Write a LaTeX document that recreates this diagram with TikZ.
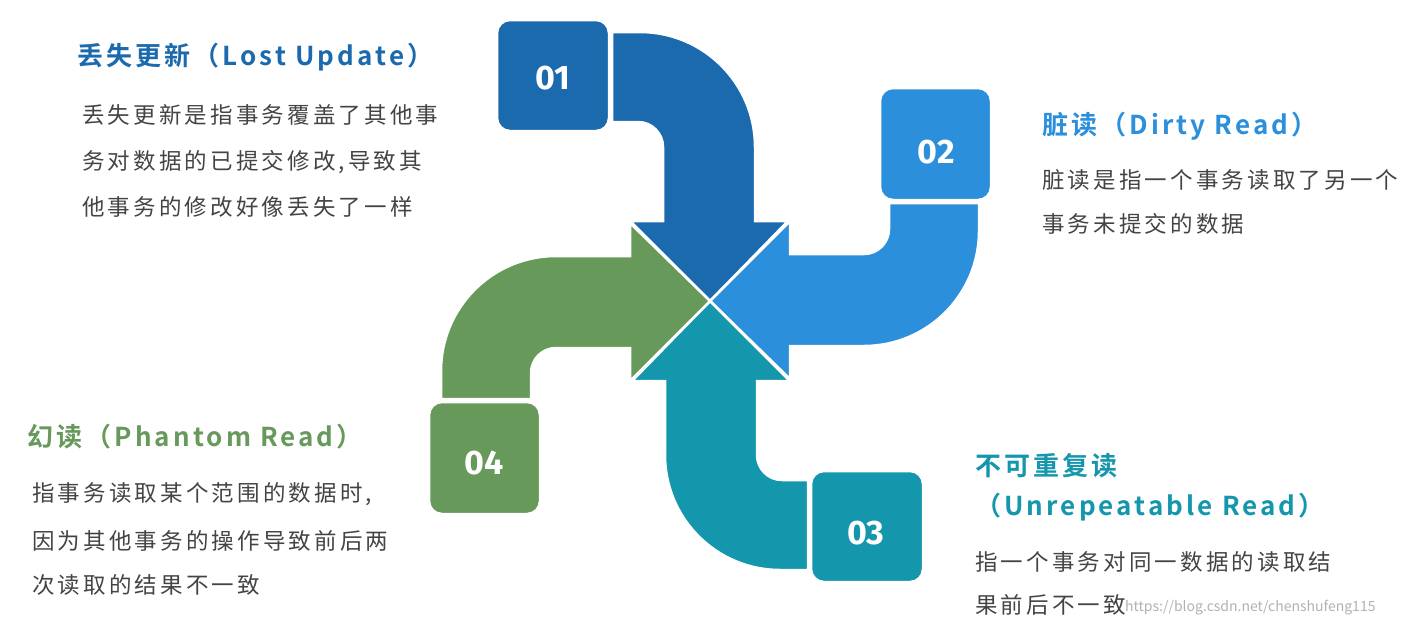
\documentclass[tikz,border=0pt]{standalone}
\usepackage{fontspec}
\setmainfont{Noto Sans CJK SC}
\newfontfamily\numfont{Fira Sans}
\newfontfamily\bodyfont[LetterSpace=14]{Noto Sans CJK SC}
\newfontfamily\ttlfont[LetterSpace=12]{Noto Sans CJK SC Bold}
\definecolor{cA}{HTML}{1B6AAE}
\definecolor{cB}{HTML}{2B8FDB}
\definecolor{cC}{HTML}{1496AC}
\definecolor{cD}{HTML}{66995A}
\definecolor{txt}{HTML}{444444}
\tikzset{
  band/.style={draw=white,line width=2.5pt,line join=miter},
  numbox/.style={draw=white,line width=2.5pt,rounded corners=13pt},
  ttl/.style={anchor=west,inner sep=0pt,font=\ttlfont\fontsize{26}{30}\selectfont},
  body/.style={anchor=west,inner sep=0pt,text=txt,font=\bodyfont\fontsize{22.5}{26}\selectfont},
  num/.style={text=white,font=\numfont\fontsize{34}{40}\selectfont\bfseries}
}
\newcommand{\bendarrow}[2]{%
  \begin{scope}[shift={(710,301)},rotate=#1]
    \fill[#2,band] (-98,-269) [rounded corners=115pt] -- (45,-269) [sharp corners] -- (45,-80) -- (78,-80) -- (0,0) -- (-80,-80) -- (-47,-80) [rounded corners=25pt] -- (-47,-179) [sharp corners] -- (-98,-179) -- cycle;
    \filldraw[#2,numbox] (-213,-281) rectangle (-101,-170);
  \end{scope}}
\begin{document}
\begin{tikzpicture}[x=1pt,y=-1pt]
\useasboundingbox[fill=white] (0,0) rectangle (1404,630);
\bendarrow{0}{cA}
\bendarrow{-90}{cB}
\bendarrow{180}{cC}
\bendarrow{90}{cD}
\node[num] (n1) at (553,78) {01};
\node[num] (n2) at (936,152) {02};
\node[num] (n3) at (866,533) {03};
\node[num] (n4) at (484,463) {04};
% texts
\node[ttl,text=cA] (t1) at (77,57) {丢失更新（Lost Update）};
\node[body] (b1a) at (82,115) {丢失更新是指事务覆盖了其他事};
\node[body] (b1b) at (82,162) {务对数据的已提交修改,导致其};
\node[body] (b1c) at (82,207) {他事务的修改好像丢失了一样};
\node[ttl,text=cB] (t2) at (1042,126) {脏读（Dirty Read）};
\node[body] (b2a) at (1042,180) {脏读是指一个事务读取了另一个};
\node[body] (b2b) at (1042,224) {事务未提交的数据};
\node[ttl,text=cD] (t4) at (27,437) {幻读（Phantom Read）};
\node[body] (b4a) at (32,494) {指事务读取某个范围的数据时,};
\node[body] (b4b) at (32,541) {因为其他事务的操作导致前后两};
\node[body] (b4c) at (32,585) {次读取的结果不一致};
\node[ttl,text=cC] (t3a) at (975,466) {不可重复读};
\node[ttl,text=cC] (t3b) at (975,507) {（Unrepeatable Read）};
\node[body] (b3a) at (975,562) {指一个事务对同一数据的读取结};
\node[body] (b3b) at (975,605) {果前后不一致};
\node[anchor=west,inner sep=0pt,text=gray!60,font=\fontsize{14}{16}\selectfont] (wm) at (1125,608) {https://blog.csdn.net/chenshufeng115};
\end{tikzpicture}
\end{document}
